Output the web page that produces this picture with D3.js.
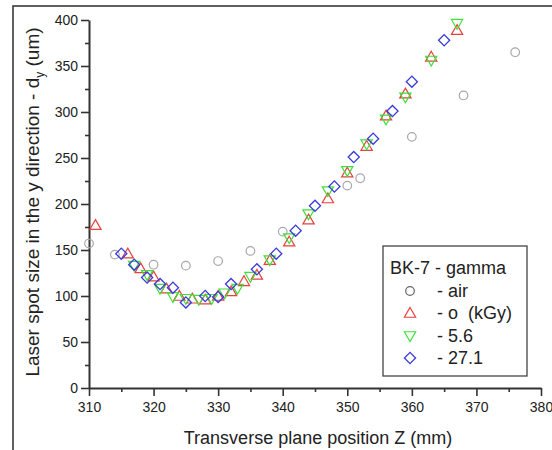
<!DOCTYPE html>
<html>
<head>
<meta charset="utf-8">
<script src="https://cdn.jsdelivr.net/npm/d3@7"></script>
<style>
  html, body { margin: 0; padding: 0; background: #fff; }
  svg { display: block; }
  text { font-family: "Liberation Sans", Arial, sans-serif; fill: #222; }
</style>
</head>
<body>
<svg id="chart" width="552" height="450"></svg>
<script>
// Laser spot size d_y versus transverse plane position Z, BK-7 glass after gamma irradiation
const xTicks = [310, 320, 330, 340, 350, 360, 370, 380];
const yTicks = [0, 50, 100, 150, 200, 250, 300, 350, 400];

const airZ = [310, 314, 320, 325, 330, 335, 340, 350, 352, 360, 368, 376];
const airD = [157, 145, 134, 133, 138, 149, 170, 220, 228, 273, 318, 365];

const dose0Z = [311, 316, 318, 320, 322, 324, 326, 328, 330, 332, 334, 336, 338, 341, 344, 347, 350, 353, 356, 359, 363, 367];
const dose0D = [177, 146, 130, 121, 108, 100, 97, 96, 100, 105, 116, 123, 139, 159, 183, 206, 234, 263, 296, 320, 360, 389];

const dose56Z = [317, 319, 321, 323, 325, 327, 329, 331, 333, 335, 338, 341, 344, 347, 350, 353, 356, 359, 363, 367];
const dose56D = [133, 123, 108, 99, 97, 96, 97, 103, 108, 121, 139, 163, 189, 214, 236, 265, 292, 316, 356, 396];

const dose271Z = [315, 317, 319, 321, 323, 325, 328, 330, 332, 336, 339, 342, 345, 348, 351, 354, 357, 360, 365];
const dose271D = [146, 134, 120, 113, 109, 93, 100, 99, 113, 129, 146, 171, 198, 219, 251, 271, 301, 333, 378];

const seriesNames = ["- air", "- o  (kGy)", "- 5.6", "- 27.1"];
const legendTitle = "BK-7 - gamma";

const svg = d3.select("#chart");

// outer frame
svg.append("rect")
  .attr("x", 13).attr("y", 6).attr("width", 560).attr("height", 470)
  .attr("fill", "none").attr("stroke", "#3a3a3a").attr("stroke-width", 1.6);

const x = d3.scaleLinear().domain([310, 380]).range([89, 541]);
const y = d3.scaleLinear().domain([0, 400]).range([388, 20]);

const axisColor = "#333";

// minor ticks
const xAxisMinor = d3.axisBottom(x).tickValues(d3.range(315, 380, 10)).tickSize(4).tickFormat("");
const yAxisMinor = d3.axisLeft(y).tickValues(d3.range(25, 400, 50)).tickSize(4).tickFormat("");

const gxm = svg.append("g").attr("transform", `translate(0,${y(0)})`).call(xAxisMinor);
const gym = svg.append("g").attr("transform", `translate(${x(310)},0)`).call(yAxisMinor);
[gxm, gym].forEach(g => {
  g.select(".domain").remove();
  g.selectAll("line").attr("stroke", axisColor).attr("stroke-width", 1.6);
});

// major axes
const gx = svg.append("g").attr("transform", `translate(0,${y(0)})`)
  .call(d3.axisBottom(x).tickValues(xTicks).tickSize(8).tickSizeOuter(0).tickPadding(6));
const gy = svg.append("g").attr("transform", `translate(${x(310)},0)`)
  .call(d3.axisLeft(y).tickValues(yTicks).tickSize(8).tickSizeOuter(0).tickPadding(3));

[gx, gy].forEach(g => {
  g.select(".domain").attr("stroke", axisColor).attr("stroke-width", 2);
  g.selectAll(".tick line").attr("stroke", axisColor).attr("stroke-width", 1.6);
  g.selectAll(".tick text")
    .style("font-family", '"Liberation Sans", Arial, sans-serif')
    .style("font-size", "14px").attr("fill", "#333");
});

// axis titles
svg.append("text")
  .attr("x", (x(310) + x(380)) / 2 + 3).attr("y", 444)
  .attr("text-anchor", "middle")
  .style("font-size", "18px")
  .text("Transverse plane position Z (mm)");

const yl = svg.append("text")
  .attr("transform", "translate(39,202) rotate(-90)")
  .attr("text-anchor", "middle")
  .style("font-size", "19px");
yl.append("tspan").text("Laser spot size in the y direction - d");
yl.append("tspan").attr("dy", 5).style("font-size", "12px").text("y");
yl.append("tspan").attr("dy", -5).text(" (um)");

// markers
const triUp = d3.symbol().type(d3.symbolTriangle).size(55);
const triDown = d3.symbol().type(d3.symbolTriangle).size(55);
const diamond = d3.symbol().type(d3.symbolSquare).size(62);

function drawCircle(g, cx, cy, color) {
  g.append("circle").attr("cx", cx).attr("cy", cy).attr("r", 4.3)
    .attr("fill", "none").attr("stroke", color).attr("stroke-width", 1.2);
}
function drawUp(g, cx, cy, color) {
  g.append("path").attr("d", triUp()).attr("transform", `translate(${cx},${cy + 1})`)
    .attr("fill", "none").attr("stroke", color).attr("stroke-width", 1.2);
}
function drawDown(g, cx, cy, color) {
  g.append("path").attr("d", triDown()).attr("transform", `translate(${cx},${cy - 1}) rotate(180)`)
    .attr("fill", "none").attr("stroke", color).attr("stroke-width", 1.2);
}
function drawDiamond(g, cx, cy, color) {
  g.append("path").attr("d", diamond()).attr("transform", `translate(${cx},${cy}) rotate(45)`)
    .attr("fill", "none").attr("stroke", color).attr("stroke-width", 1.3);
}

const colors = { air: "#a8a8a8", d0: "#e8403c", d56: "#3ee03a", d271: "#3a3adc" };

const plot = svg.append("g");
airZ.forEach((z, i) => drawCircle(plot, x(z), y(airD[i]), colors.air));
dose0Z.forEach((z, i) => drawUp(plot, x(z), y(dose0D[i]), colors.d0));
dose56Z.forEach((z, i) => drawDown(plot, x(z), y(dose56D[i]), colors.d56));
dose271Z.forEach((z, i) => drawDiamond(plot, x(z), y(dose271D[i]), colors.d271));

// legend
const lg = svg.append("g");
lg.append("rect").attr("x", 383).attr("y", 246).attr("width", 144).attr("height", 130)
  .attr("fill", "#fff").attr("stroke", "#444").attr("stroke-width", 1.3);
lg.append("text").attr("x", 390).attr("y", 274).style("font-size", "18px").text(legendTitle);

const rowY = [291, 313, 336, 358];
const drawers = [
  (g, cy) => drawCircle(g, 410, cy, "#666"),
  (g, cy) => drawUp(g, 410, cy, colors.d0),
  (g, cy) => drawDown(g, 410, cy, colors.d56),
  (g, cy) => drawDiamond(g, 410, cy, colors.d271)
];
seriesNames.forEach((name, i) => {
  drawers[i](lg, rowY[i]);
  lg.append("text").attr("x", 437).attr("y", rowY[i] + 6)
    .style("font-size", "18px").style("white-space", "pre").attr("xml:space", "preserve")
    .text(name);
});
</script>
</body>
</html>
